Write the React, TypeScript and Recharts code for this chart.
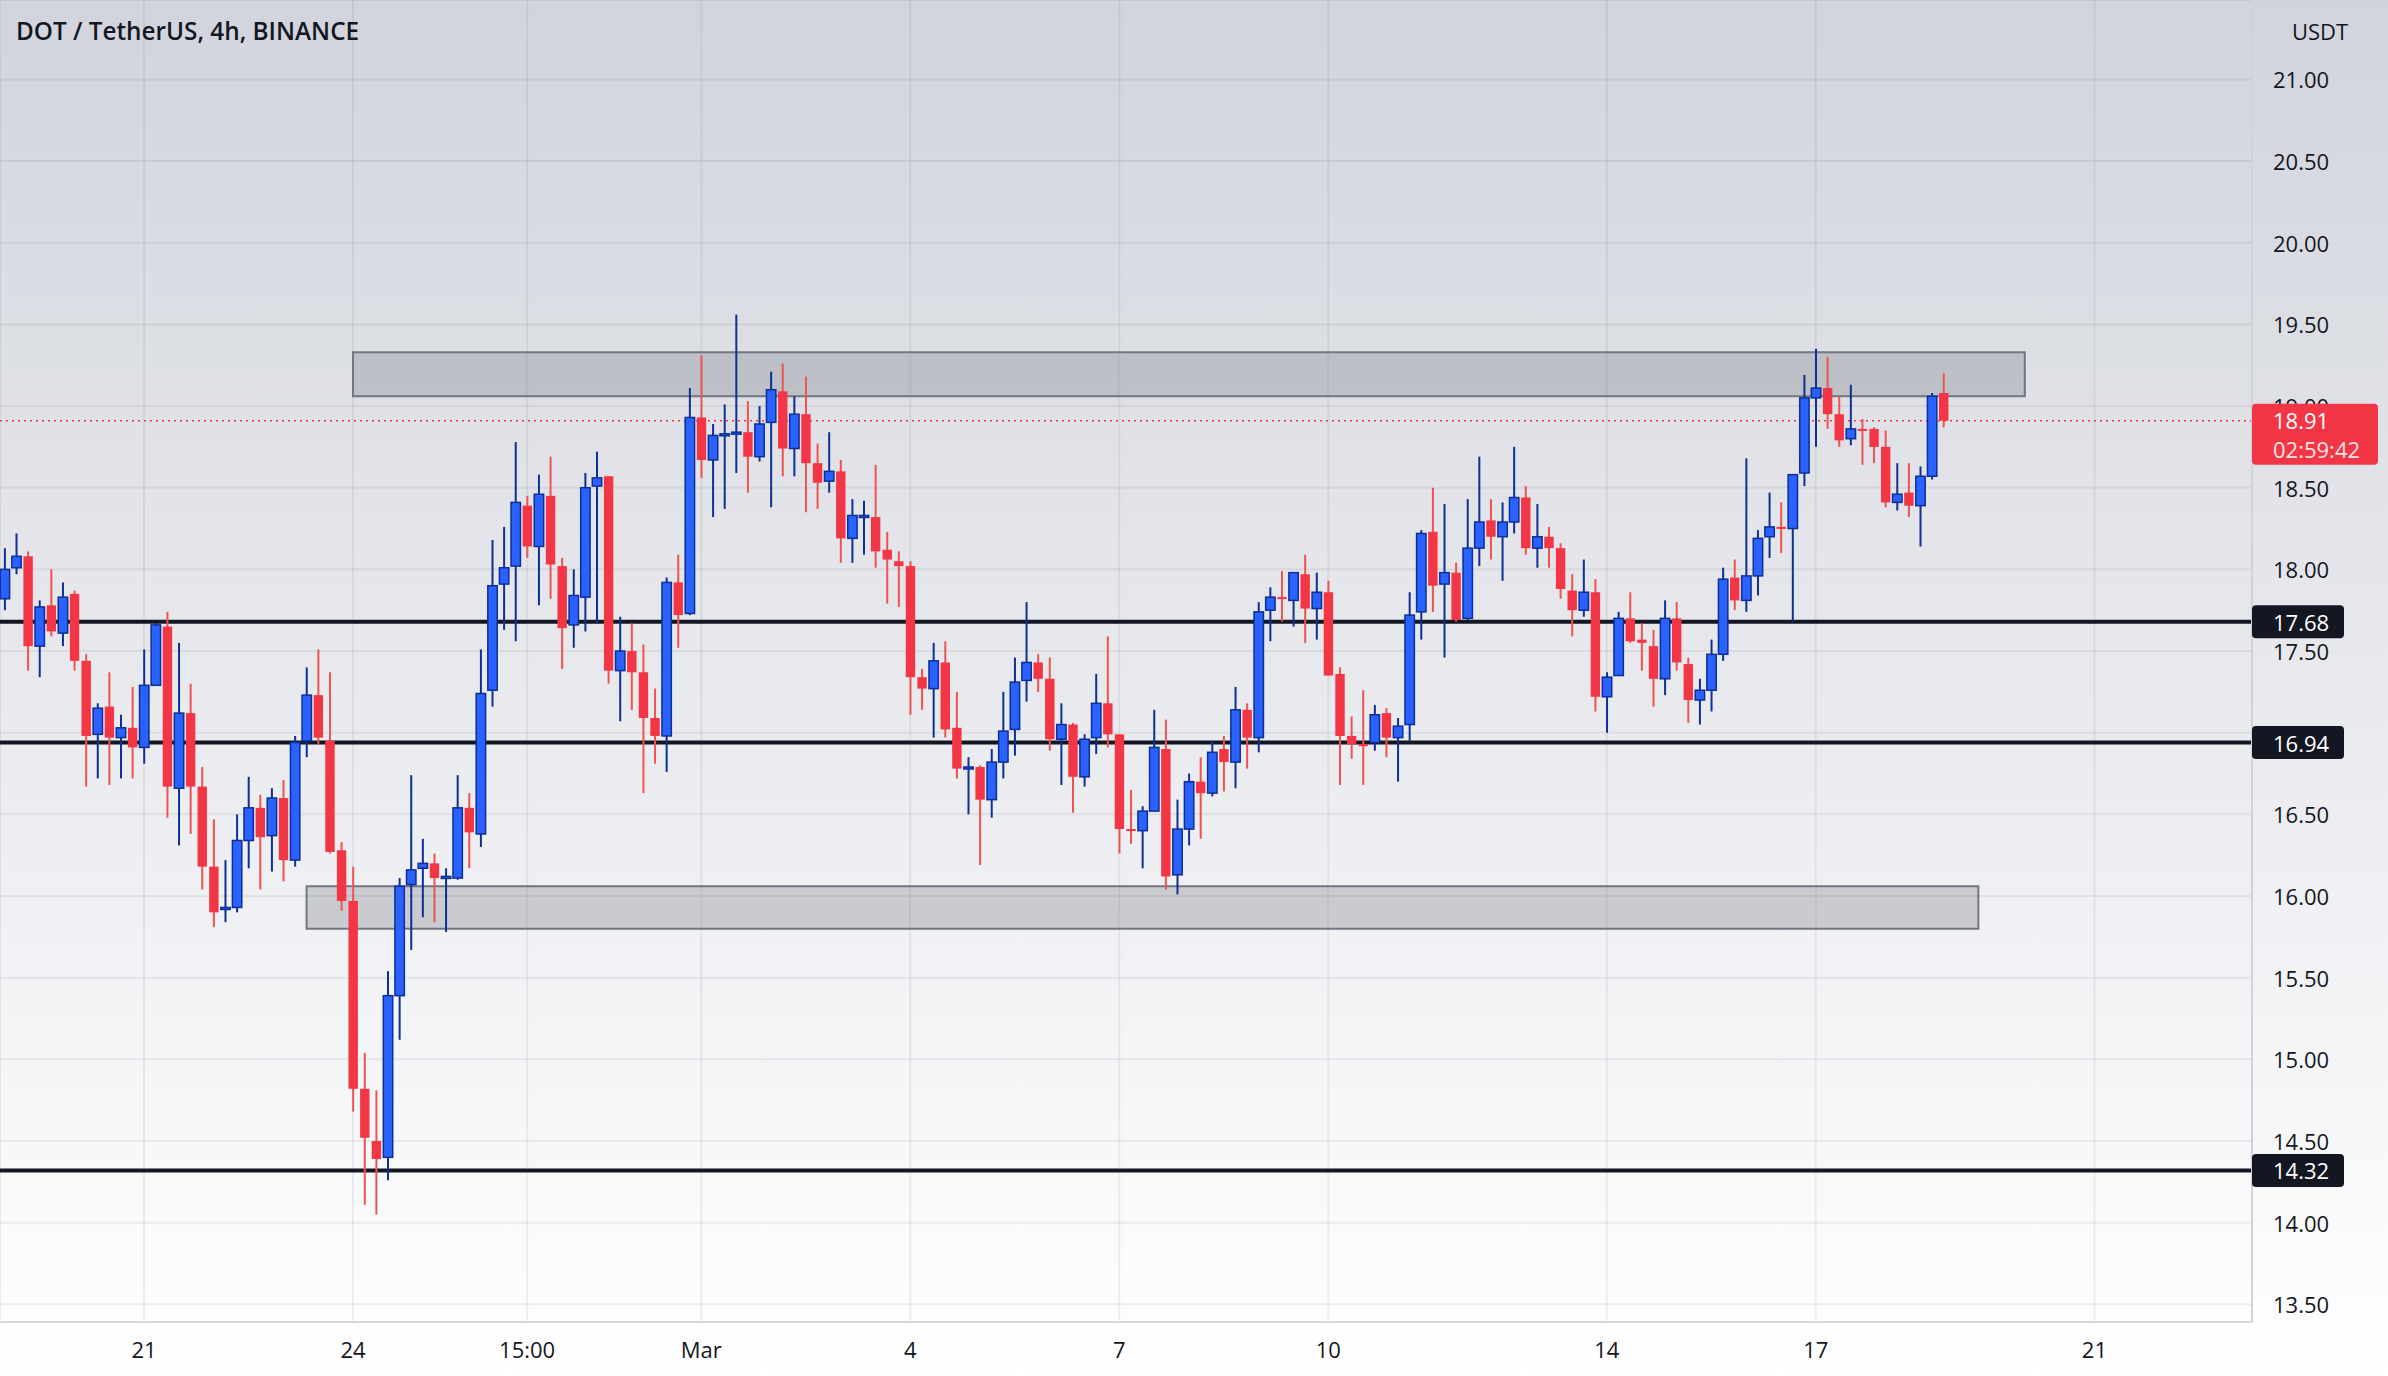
import { Bar, CartesianGrid, ComposedChart, ReferenceArea, ReferenceLine, XAxis, YAxis } from "recharts";

// 4h candles, DOT/USDT
const opens = [
  17.82, 18.01, 18.08, 17.53, 17.78, 17.61, 17.85, 17.44, 16.99, 17.16,
  16.97, 17.03, 16.91, 17.29, 17.65, 16.66, 17.12, 16.67, 16.18, 15.92,
  15.93, 16.34, 16.54, 16.37, 16.6, 16.22, 16.95, 17.23, 16.95, 16.28,
  15.97, 14.82, 14.5, 14.4, 15.39, 16.07, 16.17, 16.2, 16.11, 16.11,
  16.54, 16.38, 17.26, 17.91, 18.02, 18.39, 18.14, 18.45, 18.02, 17.66,
  17.83, 18.51, 18.57, 17.38, 17.5, 17.37, 17.09, 16.98, 17.92, 17.73,
  18.93, 18.67, 18.82, 18.83, 18.84, 18.69, 18.9, 19.09, 18.74, 18.95,
  18.65, 18.54, 18.6, 18.19, 18.32, 18.32, 18.12, 18.05, 18.02, 17.34,
  17.27, 17.43, 17.03, 16.78, 16.79, 16.59, 16.82, 17.02, 17.32, 17.43,
  17.33, 16.96, 17.05, 16.73, 16.97, 17.18, 16.99, 16.41, 16.4, 16.52,
  16.9, 16.13, 16.41, 16.7, 16.63, 16.9, 16.82, 17.14, 16.97, 17.75,
  17.83, 17.81, 17.97, 17.76, 17.86, 17.36, 16.98, 16.93, 16.94, 17.12,
  16.97, 17.05, 17.74, 18.23, 17.91, 17.98, 17.7, 18.13, 18.3, 18.2,
  18.29, 18.44, 18.13, 18.2, 18.13, 17.87, 17.75, 17.86, 17.22, 17.35,
  17.7, 17.57, 17.53, 17.33, 17.7, 17.42, 17.2, 17.26, 17.48, 17.95,
  17.81, 17.96, 18.2, 18.26, 18.25, 18.59, 19.05, 19.11, 18.95, 18.8,
  18.86, 18.86, 18.75, 18.41, 18.47, 18.39, 18.57, 19.08,
];
const highs = [
  18.13, 18.22, 18.11, 17.81, 18.0, 17.92, 17.87, 17.48, 17.18, 17.37,
  17.11, 17.28, 17.51, 17.67, 17.74, 17.55, 17.3, 16.79, 16.47, 16.22,
  16.5, 16.73, 16.62, 16.66, 16.71, 16.98, 17.4, 17.51, 17.37, 16.33,
  16.18, 15.04, 14.81, 15.54, 16.11, 16.74, 16.35, 16.26, 16.17, 16.74,
  16.63, 17.51, 18.18, 18.26, 18.78, 18.45, 18.58, 18.69, 18.07, 18.0,
  18.59, 18.72, 18.57, 17.71, 17.67, 17.54, 17.27, 17.95, 18.09, 19.11,
  19.31, 18.89, 19.01, 19.56, 19.03, 19.0, 19.21, 19.26, 19.06, 19.18,
  18.77, 18.84, 18.67, 18.43, 18.42, 18.64, 18.23, 18.11, 18.05, 17.39,
  17.55, 17.56, 17.25, 16.85, 16.8, 16.9, 17.25, 17.46, 17.8, 17.48,
  17.46, 17.18, 17.06, 16.99, 17.36, 17.59, 16.99, 16.65, 16.55, 17.14,
  17.08, 16.59, 16.75, 16.85, 16.95, 16.98, 17.28, 17.18, 17.8, 17.89,
  17.99, 17.98, 18.09, 17.98, 17.93, 17.4, 17.1, 17.26, 17.17, 17.15,
  17.09, 17.86, 18.24, 18.5, 18.4, 18.04, 18.43, 18.69, 18.43, 18.41,
  18.75, 18.51, 18.4, 18.26, 18.16, 17.97, 18.06, 17.94, 17.37, 17.74,
  17.86, 17.67, 17.63, 17.81, 17.8, 17.46, 17.33, 17.57, 18.01, 18.06,
  18.68, 18.24, 18.47, 18.41, 18.58, 19.19, 19.35, 19.3, 19.06, 19.13,
  18.92, 18.87, 18.85, 18.65, 18.65, 18.63, 19.08, 19.2,
];
const lows = [
  17.75, 17.97, 17.38, 17.34, 17.59, 17.53, 17.38, 16.67, 16.72, 16.68,
  16.72, 16.72, 16.81, 17.29, 16.48, 16.31, 16.38, 16.04, 15.81, 15.84,
  15.9, 16.17, 16.04, 16.15, 16.09, 16.18, 16.85, 16.93, 16.26, 15.91,
  14.68, 14.11, 14.05, 14.26, 15.12, 15.67, 15.87, 15.84, 15.78, 16.1,
  16.17, 16.3, 17.16, 17.63, 17.56, 18.07, 17.78, 17.82, 17.39, 17.52,
  17.62, 17.67, 17.3, 17.07, 17.14, 16.63, 16.81, 16.76, 17.52, 17.72,
  18.56, 18.32, 18.37, 18.59, 18.47, 18.66, 18.38, 18.57, 18.57, 18.35,
  18.37, 18.47, 18.04, 18.04, 18.09, 18.01, 17.79, 17.77, 17.11, 17.14,
  16.97, 16.97, 16.72, 16.5, 16.19, 16.48, 16.72, 16.86, 17.19, 17.25,
  16.89, 16.68, 16.51, 16.67, 16.87, 16.91, 16.26, 16.32, 16.17, 16.52,
  16.04, 16.01, 16.31, 16.35, 16.61, 16.64, 16.66, 16.78, 16.88, 17.56,
  17.68, 17.65, 17.55, 17.57, 17.35, 16.68, 16.84, 16.68, 16.89, 16.85,
  16.7, 16.95, 17.57, 17.74, 17.46, 17.68, 17.69, 18.02, 18.06, 17.93,
  18.22, 18.09, 18.01, 18.01, 17.82, 17.59, 17.71, 17.13, 17.0, 17.35,
  17.55, 17.38, 17.16, 17.23, 17.38, 17.06, 17.05, 17.13, 17.44, 17.75,
  17.74, 17.84, 18.07, 18.1, 17.68, 18.51, 18.75, 18.86, 18.75, 18.76,
  18.64, 18.65, 18.38, 18.36, 18.32, 18.14, 18.55, 18.87,
];
const closes = [
  18.0, 18.08, 17.53, 17.77, 17.62, 17.83, 17.44, 16.98, 17.15, 16.97,
  17.03, 16.91, 17.29, 17.66, 16.67, 17.12, 16.67, 16.18, 15.9, 15.93,
  16.34, 16.54, 16.36, 16.6, 16.22, 16.94, 17.23, 16.97, 16.27, 15.97,
  14.82, 14.52, 14.39, 15.39, 16.06, 16.16, 16.2, 16.11, 16.12, 16.54,
  16.39, 17.24, 17.9, 18.01, 18.41, 18.14, 18.46, 18.03, 17.64, 17.84,
  18.5, 18.56, 17.38, 17.5, 17.37, 17.09, 16.98, 17.92, 17.72, 18.93,
  18.67, 18.82, 18.83, 18.84, 18.69, 18.89, 19.1, 18.74, 18.95, 18.65,
  18.53, 18.6, 18.19, 18.33, 18.33, 18.11, 18.06, 18.02, 17.34, 17.27,
  17.44, 17.02, 16.78, 16.79, 16.59, 16.82, 17.01, 17.31, 17.43, 17.33,
  16.96, 17.05, 16.73, 16.96, 17.18, 16.99, 16.41, 16.4, 16.52, 16.91,
  16.12, 16.41, 16.7, 16.63, 16.88, 16.82, 17.14, 16.97, 17.74, 17.83,
  17.82, 17.98, 17.76, 17.86, 17.35, 16.98, 16.93, 16.92, 17.11, 16.97,
  17.04, 17.72, 18.22, 17.9, 17.98, 17.69, 18.13, 18.29, 18.2, 18.29,
  18.44, 18.13, 18.2, 18.13, 17.88, 17.75, 17.86, 17.22, 17.34, 17.7,
  17.56, 17.55, 17.33, 17.7, 17.43, 17.2, 17.26, 17.48, 17.94, 17.81,
  17.96, 18.19, 18.26, 18.25, 18.58, 19.05, 19.11, 18.95, 18.79, 18.86,
  18.85, 18.75, 18.41, 18.46, 18.39, 18.57, 19.06, 18.91,
];

const priceTicks = [13.5, 14, 14.5, 15, 15.5, 16, 16.5, 17, 17.5, 18, 18.5, 19, 19.5, 20, 20.5, 21];
const dateTicks = [12, 30, 45, 60, 78, 96, 114, 138, 156, 180];
const dateLabels = ["21", "24", "15:00", "Mar", "4", "7", "10", "14", "17", "21"];

const levels = [17.68, 16.94, 14.32];
const lastPrice = 18.91;
const countdown = "02:59:42";

// drawn zones: bar index range and price range
const zoneStarts = [30, 26];
const zoneEnds = [174, 170];
const zoneLows = [19.06, 15.8];
const zoneHighs = [19.33, 16.06];

const candles = opens.map((open, i) => ({
  i,
  open,
  high: highs[i],
  low: lows[i],
  close: closes[i],
}));

const FONT = "'Open Sans', sans-serif";
const TEXT = "#131722";
const UP = "#2962ff";
const UP_EDGE = "#0e2f94";
const DOWN = "#f23645";
const DOWN_WICK = "#ef5350";

function Candle(props: any) {
  const { x, width, payload } = props;
  let { y, height } = props;
  if (!payload || y == null || height == null) return null;
  if (height < 0) {
    y += height;
    height = -height;
  }
  const { open, close, high, low } = payload;
  const cx = x + width / 2;
  const unit = height / (high - low);
  const yOf = (v: number) => y + (high - v) * unit;
  const up = close >= open;
  const top = yOf(Math.max(open, close));
  const bh = Math.max(yOf(Math.min(open, close)) - top, 2);
  const bw = 9.4;
  return (
    <g>
      <line x1={cx} x2={cx} y1={y} y2={y + height} stroke={up ? UP_EDGE : DOWN_WICK} strokeWidth={2} />
      <rect
        x={cx - bw / 2}
        y={top}
        width={bw}
        height={bh}
        fill={up ? UP : DOWN}
        stroke={up ? UP_EDGE : "none"}
        strokeWidth={1.5}
      />
    </g>
  );
}

function PriceTick(props: any) {
  const { x, y, payload } = props;
  return (
    <text x={x} y={y} dominantBaseline="central" textAnchor="start" fill={TEXT} fontSize={22} fontFamily={FONT}>
      {payload.value.toFixed(2)}
    </text>
  );
}

function DateTick(props: any) {
  const { x, y, payload } = props;
  const idx = dateTicks.indexOf(payload.value);
  return (
    <text x={x} y={y} dominantBaseline="central" textAnchor="middle" fill={TEXT} fontSize={22} fontFamily={FONT}>
      {dateLabels[idx]}
    </text>
  );
}

const levelTag = (value: number) => (props: any) => {
  const { viewBox } = props;
  const left = viewBox.x + viewBox.width;
  const cy = viewBox.y;
  return (
    <g>
      <rect x={left} y={cy - 16.5} width={92} height={33} rx={4} fill={TEXT} />
      <text x={left + 21} y={cy} dominantBaseline="central" fill="#ffffff" fontSize={22} fontFamily={FONT}>
        {value.toFixed(2)}
      </text>
    </g>
  );
};

const lastTag = (props: any) => {
  const { viewBox } = props;
  const left = viewBox.x + viewBox.width;
  const cy = viewBox.y;
  return (
    <g>
      <rect x={left} y={cy - 17} width={126} height={61} rx={4} fill={DOWN} />
      <text x={left + 21} y={cy - 1} dominantBaseline="central" fill="#ffffff" fontSize={22} fontFamily={FONT}>
        {lastPrice.toFixed(2)}
      </text>
      <text x={left + 21} y={cy + 28} dominantBaseline="central" fill="#ffe3e6" fontSize={22} fontFamily={FONT}>
        {countdown}
      </text>
    </g>
  );
};

export default function App() {
  return (
    <div
      style={{
        position: "relative",
        width: 2388,
        height: 1376,
        background: "linear-gradient(to bottom, #d1d4dc 0%, #ffffff 100%)",
        fontFamily: FONT,
      }}
    >
      <style>{"body{margin:0}"}</style>
      <ComposedChart width={2388} height={1376} data={candles} margin={{ top: 0, right: 0, bottom: 0, left: 0 }}>
        <CartesianGrid stroke="rgba(42,46,57,0.07)" strokeWidth={2} />
        <XAxis
          dataKey="i"
          type="number"
          domain={[-0.405, 193.57]}
          allowDataOverflow
          ticks={dateTicks}
          interval={0}
          height={54}
          tickLine={false}
          tickSize={0}
          tickMargin={27}
          axisLine={{ stroke: "#d6d8de", strokeWidth: 2 }}
          tick={<DateTick />}
        />
        <YAxis
          orientation="right"
          type="number"
          domain={[13.392, 21.486]}
          allowDataOverflow
          ticks={priceTicks}
          interval={0}
          width={136}
          tickLine={false}
          tickSize={0}
          tickMargin={21}
          axisLine={{ stroke: "#cfd2d9", strokeWidth: 2 }}
          tick={<PriceTick />}
        />
        {zoneStarts.map((s, k) => (
          <ReferenceArea
            key={"z" + k}
            x1={s}
            x2={zoneEnds[k]}
            y1={zoneLows[k]}
            y2={zoneHighs[k]}
            fill="#787b86"
            fillOpacity={0.32}
            stroke="#737680"
            strokeWidth={2}
          />
        ))}
        {/* level lines sit under the candles */}
        <ReferenceLine y={lastPrice} stroke={DOWN} strokeWidth={1.5} strokeDasharray="2 4" zIndex={150} />
        {levels.map((v) => (
          <ReferenceLine key={"l" + v} y={v} stroke={TEXT} strokeWidth={4} zIndex={150} />
        ))}
        <Bar
          dataKey={(d: any) => [d.low, d.high]}
          barSize={10}
          shape={<Candle />}
          isAnimationActive={false}
        />
        {/* price tags on the axis, above the tick labels */}
        <ReferenceLine y={lastPrice} stroke="none" zIndex={3000} label={lastTag} />
        {levels.map((v) => (
          <ReferenceLine key={"t" + v} y={v} stroke="none" zIndex={3000} label={levelTag(v)} />
        ))}
      </ComposedChart>
      <div
        style={{
          position: "absolute",
          left: 16,
          top: 14,
          lineHeight: "34px",
          fontSize: 24.3,
          fontWeight: 600,
          color: TEXT,
        }}
      >
        DOT / TetherUS, 4h, BINANCE
      </div>
      <div
        style={{
          position: "absolute",
          left: 2252,
          width: 136,
          top: 14,
          lineHeight: "34px",
          fontSize: 22,
          textAlign: "center",
          color: TEXT,
        }}
      >
        USDT
      </div>
    </div>
  );
}
